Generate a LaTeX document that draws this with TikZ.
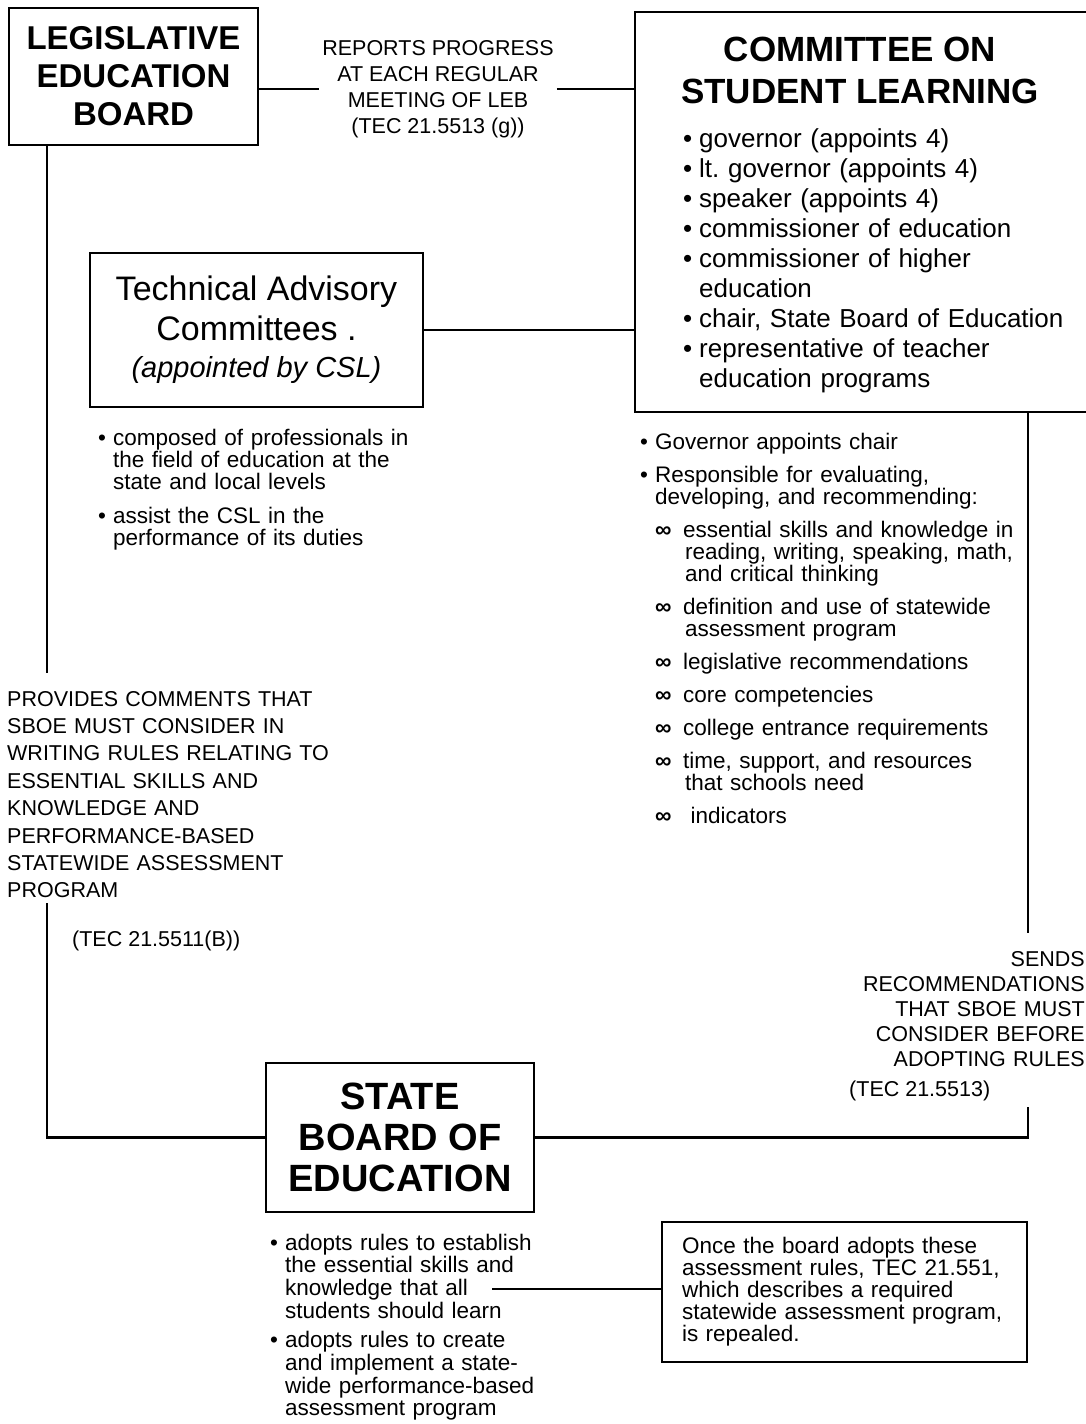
\documentclass[tikz,border=0pt]{standalone}
\usepackage{fontspec}
\setmainfont{Liberation Sans}
\usetikzlibrary{positioning}

\newcommand{\fs}[2]{\fontsize{#1}{#2}\selectfont}
\newcommand{\bul}[1][15pt]{\makebox[#1][l]{\textbullet}}
\newcommand{\ind}[1][15pt]{\hspace*{#1}}
\newcommand{\infmark}{\makebox[28pt][l]{\fs{23}{23}\bfseries ∞}}
\frenchspacing

\begin{document}
\begin{tikzpicture}[
    x=1pt, y=-1pt,
    box/.style={draw, line width=2.8pt, align=center, inner sep=0pt},
    lbl/.style={font=\fs{21.5}{26}, inner sep=0pt},
    notes/.style={font=\fs{22.5}{22}, align=left, inner sep=0pt, anchor=base west},
    link/.style={line width=2.8pt}
]
\path[use as bounding box, fill=white] (0,0) rectangle (1086,1424);

% 1. Boards and committees
\node[box, minimum width=249, minimum height=137, font=\fs{33}{38}\bfseries] (leb) at (133.5,76.5) {LEGISLATIVE\\EDUCATION\\BOARD};
\node[box, minimum width=460, minimum height=400] (csl) at (865,212) {};
\node[font=\fs{35}{42}\bfseries, align=center] (csltitle) at (860,70) {COMMITTEE ON\\STUDENT LEARNING};
\node[box, minimum width=333, minimum height=154, font=\fs{34}{40}] (tac) at (256.5,330) {Technical Advisory\\Committees .\\[-3pt]{\fs{29}{40}\itshape (appointed by CSL)}};
\node[box, minimum width=268, minimum height=149, font=\fs{38}{41}\bfseries] (sboe) at (400,1137.5) {STATE\\BOARD OF\\EDUCATION};
\node[box, notes, anchor=center, text width=325, inner xsep=20pt, minimum height=140] (repeal) at (844.5,1292) {Once the board adopts these\\assessment rules, TEC 21.551,\\which describes a required\\statewide assessment program,\\is repealed.};

% 2. Lists
\node[notes, font=\fs{26}{30}, text width=440] (members) at (683,147) {\bul[16pt]governor (appoints 4)\\\bul[16pt]lt. governor (appoints 4)\\\bul[16pt]speaker (appoints 4)\\\bul[16pt]commissioner of education\\\bul[16pt]commissioner of higher\\\ind[16pt]education\\\bul[16pt]chair, State Board of Education\\\bul[16pt]representative of teacher\\\ind[16pt]education programs};
\node[notes, text width=330] (tacnotes) at (98,445) {\bul composed of professionals in\\\ind the field of education at the\\\ind state and local levels\\[12pt]\bul assist the CSL in the\\\ind performance of its duties};
\node[notes, text width=430] (duties) at (640,449) {\bul Governor appoints chair\\[11pt]\bul Responsible for evaluating,\\\ind developing, and recommending:\\[11pt]\ind\infmark essential skills and knowledge in\\\ind[45pt]reading, writing, speaking, math,\\\ind[45pt]and critical thinking\\[11pt]\ind\infmark definition and use of statewide\\\ind[45pt]assessment program\\[11pt]\ind\infmark legislative recommendations\\[11pt]\ind\infmark core competencies\\[11pt]\ind\infmark college entrance requirements\\[11pt]\ind\infmark time, support, and resources\\\ind[45pt]that schools need\\[11pt]\ind\infmark\ indicators};
\node[notes, font=\fs{22.5}{22.7}, text width=270] (sboenotes) at (270,1250) {\bul adopts rules to establish\\\ind the essential skills and\\\ind knowledge that all\\\ind students should learn\\[7pt]\bul adopts rules to create\\\ind and implement a state-\\\ind wide performance-based\\\ind assessment program};

% 3. Connector labels
\node[lbl, align=center, inner xsep=3pt] (reports) at (438,89) {REPORTS PROGRESS\\AT EACH REGULAR\\MEETING OF LEB\\(TEC 21.5513 (g))};
\node[lbl, font=\fs{21.5}{27.4}, align=left, anchor=base west, text width=340] (provides) at (7,706) {PROVIDES COMMENTS THAT\\SBOE MUST CONSIDER IN\\WRITING RULES RELATING TO\\ESSENTIAL SKILLS AND\\KNOWLEDGE AND\\PERFORMANCE-BASED\\STATEWIDE ASSESSMENT\\PROGRAM};
\node[lbl, anchor=base west] (tecprov) at (72,946) {(TEC 21.5511(B))};
\node[lbl, font=\fs{21.5}{25}, align=right, anchor=base east, text width=260] (sends) at (1085,966) {SENDS\\RECOMMENDATIONS\\THAT SBOE MUST\\CONSIDER BEFORE\\ADOPTING RULES};
\node[lbl, anchor=base west] (tecsends) at (849,1096) {(TEC 21.5513)};

% Trunk ends
\coordinate (ltrunk) at (47,673);
\coordinate (lresume) at (47,903);
\coordinate (rtrunk) at (1028,933);
\coordinate (rresume) at (1028,1107);
\coordinate (knowledge) at (492,1289);

% Connectors
\draw[link] (leb.east |- reports.west) -- (reports.west);
\draw[link] (reports.east) -- (reports.east -| csl.west);
\draw[link] (tac.east) -- (tac.east -| csl.west);
\draw[link] (leb.south -| ltrunk) -- (ltrunk);
\draw[link] (lresume) |- (sboe.west);
\draw[link] (csl.south -| rtrunk) -- (rtrunk);
\draw[link] (rresume) |- (sboe.east);
\draw[link] (knowledge) -- (knowledge -| repeal.west);

\end{tikzpicture}
\end{document}
